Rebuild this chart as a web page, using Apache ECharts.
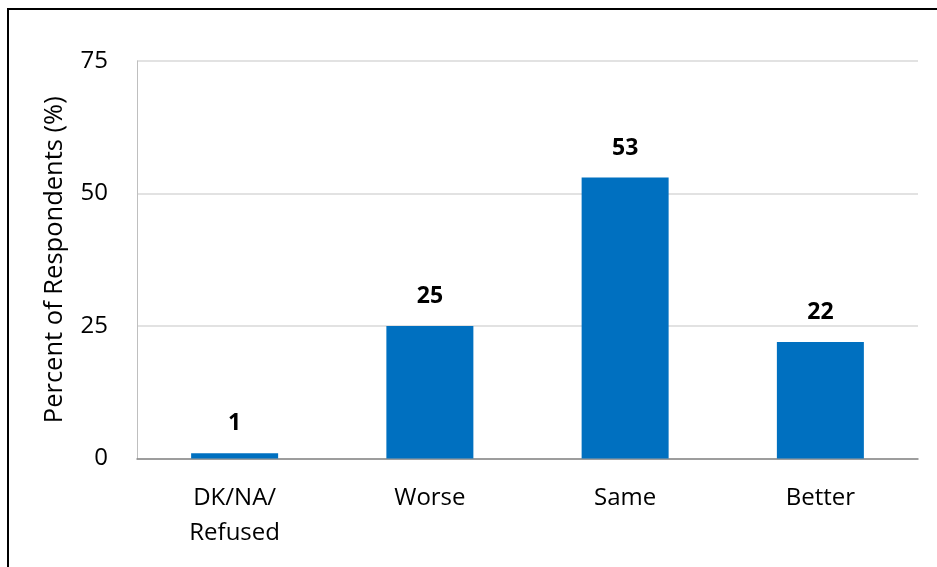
<!DOCTYPE html>
<html>
<head>
<meta charset="utf-8">
<script src="https://cdn.jsdelivr.net/npm/echarts@6/dist/echarts.min.js"></script>
<style>
  html, body { margin: 0; padding: 0; background: #fff; }
  #chart { width: 937px; height: 567px; }
</style>
</head>
<body>
<div id="chart"></div>
<script>
// Survey responses: share of respondents per answer
const categories = ['DK/NA/\nRefused', 'Worse', 'Same', 'Better'];
const percentValues = [1, 25, 53, 22];
const yTicks = [0, 25, 50, 75];

const FONT = '"Open Sans", "Noto Sans", sans-serif';

const chart = echarts.init(document.getElementById('chart'), null, { renderer: 'canvas' });

chart.setOption({
  backgroundColor: '#ffffff',
  animation: false,
  graphic: [{
    type: 'rect',
    shape: { x: 8, y: 9, width: 1000, height: 700 },
    style: { fill: 'none', stroke: '#000000', lineWidth: 2 },
    silent: true
  }],
  grid: { left: 137, right: 19, top: 61, bottom: 108.5 },
  xAxis: {
    type: 'category',
    data: categories,
    axisLine: { lineStyle: { color: '#868686', width: 1.5 } },
    axisTick: { show: false },
    axisLabel: {
      color: '#000000',
      fontFamily: FONT,
      fontSize: 24,
      lineHeight: 35,
      margin: 22
    }
  },
  yAxis: {
    type: 'value',
    min: yTicks[0],
    max: yTicks[yTicks.length - 1],
    interval: 25,
    name: 'Percent of Respondents (%)',
    nameLocation: 'middle',
    nameGap: 69,
    nameTextStyle: { color: '#000000', fontFamily: FONT, fontSize: 25.5 },
    axisLine: { show: true, lineStyle: { color: '#bfbfbf', width: 1 } },
    axisTick: { show: false },
    axisLabel: { color: '#000000', fontFamily: FONT, fontSize: 24, margin: 29 },
    splitLine: { lineStyle: { color: '#d9d9d9', width: 1.5 } }
  },
  series: [{
    type: 'bar',
    data: percentValues,
    barWidth: 87,
    itemStyle: { color: '#0070c0' },
    label: {
      show: true,
      position: 'top',
      distance: 18,
      color: '#000000',
      fontFamily: FONT,
      fontSize: 23,
      fontWeight: 'bold'
    }
  }]
});
</script>
</body>
</html>
